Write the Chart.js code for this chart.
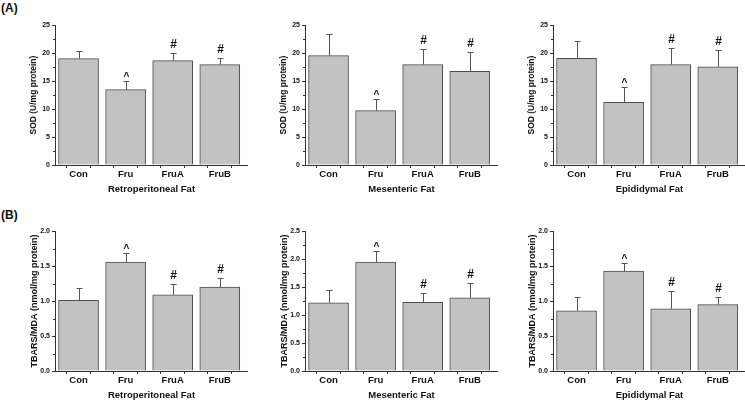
<!DOCTYPE html>
<html><head><meta charset="utf-8">
<script src="https://cdn.jsdelivr.net/npm/chart.js@4/dist/chart.umd.min.js"></script>
<style>
html,body{margin:0;padding:0;background:#fff;overflow:hidden;width:745px;height:402px;}
canvas{position:absolute;}
.lbl{position:absolute;font:bold 12px "Liberation Sans",Arial,sans-serif;color:#111;}
</style></head><body>
<div class="lbl" style="left:1px;top:1px">(A)</div>
<div class="lbl" style="left:1px;top:208px">(B)</div>
<canvas id="c1" width="248" height="181" style="left:0px;top:19px"></canvas>
<canvas id="c2" width="248" height="181" style="left:250px;top:19px"></canvas>
<canvas id="c3" width="248" height="181" style="left:498px;top:19px"></canvas>
<canvas id="c4" width="248" height="181" style="left:0px;top:225px"></canvas>
<canvas id="c5" width="248" height="181" style="left:250px;top:225px"></canvas>
<canvas id="c6" width="248" height="181" style="left:498px;top:225px"></canvas>
<script>
// ---- data ----
const categories = ['Con', 'Fru', 'FruA', 'FruB'];
const marks = ['', '^', '#', '#'];
const fatLabels = ['Retroperitoneal Fat', 'Mesenteric Fat', 'Epididymal Fat'];
const sodTitle = 'SOD (U/mg protein)';
const tbarsTitle = 'TBARS/MDA (nmol/mg protein)';

const sodRetro = [19.03, 13.48, 18.67, 17.96];
const sodRetroSD = [1.32, 1.50, 1.32, 1.19];
const sodMes = [19.57, 9.73, 17.96, 16.77];
const sodMesSD = [3.93, 2.14, 2.84, 3.52];
const sodEpi = [19.09, 11.22, 17.96, 17.54];
const sodEpiSD = [3.17, 2.80, 3.04, 3.04];

const tbarsRetro = [1.01, 1.56, 1.09, 1.20];
const tbarsRetroSD = [0.18, 0.13, 0.15, 0.13];
const tbarsMes = [1.22, 1.95, 1.23, 1.31];
const tbarsMesSD = [0.23, 0.19, 0.16, 0.26];
const tbarsEpi = [0.86, 1.43, 0.89, 0.95];
const tbarsEpiSD = [0.20, 0.12, 0.26, 0.11];

const sodAxis = {max: 25, step: 5, decimals: 0};
const tbarsAxisRetro = {max: 2.0, step: 0.5, decimals: 1};
const tbarsAxisMes = {max: 2.5, step: 0.5, decimals: 1};
const tbarsAxisEpi = {max: 2.0, step: 0.5, decimals: 1};

// ---- styling ----
const FONT = '"Liberation Sans", Arial, sans-serif';
const INK = '#111';
const AXIS = '#333';
const BAR_FILL = '#c2c2c2';
const BAR_EDGE = '#4d4d4d';
const ERR = '#555';

const errPlugin = {
  id: 'errbars',
  afterDatasetsDraw(chart, args, opts) {
    const ctx = chart.ctx;
    const xs = chart.scales.x, ys = chart.scales.y;
    const data = chart.data.datasets[0].data;
    ctx.save();
    ctx.strokeStyle = ERR;
    ctx.lineWidth = 1;
    data.forEach((d, i) => {
      const x = Math.round(xs.getPixelForValue(d.x)) + 0.5;
      const yb = ys.getPixelForValue(d.y);
      const yt = Math.round(ys.getPixelForValue(d.y + opts.sd[i])) + 0.5;
      ctx.beginPath();
      ctx.moveTo(x, yb);
      ctx.lineTo(x, yt);
      ctx.moveTo(x - 3, yt);
      ctx.lineTo(x + 3, yt);
      ctx.stroke();
      const m = opts.marks[i];
      if (m) {
        ctx.fillStyle = INK;
        ctx.textAlign = 'center';
        ctx.textBaseline = 'alphabetic';
        if (m === '#') {
          ctx.font = 'bold 12px ' + FONT;
          ctx.fillText(m, x, yt - 6);
        } else {
          ctx.font = 'bold 10px ' + FONT;
          ctx.fillText(m, x, yt - 2);
        }
      }
    });
    ctx.restore();
  }
};

const minorPlugin = {
  id: 'minorTicks',
  afterDraw(chart) {
    const ctx = chart.ctx;
    const ys = chart.scales.y;
    const t = ys.ticks;
    const x = ys.right;
    ctx.save();
    ctx.strokeStyle = AXIS;
    ctx.lineWidth = 1;
    for (let i = 0; i < t.length - 1; i++) {
      const v = (t[i].value + t[i + 1].value) / 2;
      const y = Math.round(ys.getPixelForValue(v)) + 0.5;
      ctx.beginPath();
      ctx.moveTo(x - 2, y);
      ctx.lineTo(x, y);
      ctx.stroke();
    }
    ctx.restore();
  }
};

const xTickValues = [1, 1.5, 2, 2.5, 3, 3.5, 4, 4.5];

function makeChart(id, values, sds, axis, yTitle, xTitle, yTitleSize) {
  const pts = values.map((v, i) => ({x: i + 1, y: v}));
  return new Chart(document.getElementById(id), {
    type: 'bar',
    data: {
      datasets: [{
        data: pts,
        backgroundColor: BAR_FILL,
        borderColor: BAR_EDGE,
        borderWidth: 1,
        barThickness: 40
      }]
    },
    options: {
      responsive: false,
      animation: false,
      events: [],
      layout: {padding: {top: 6, right: 0, left: 0, bottom: 0}},
      plugins: {
        legend: {display: false},
        tooltip: {enabled: false},
        errbars: {sd: sds, marks: marks}
      },
      scales: {
        x: {
          type: 'linear',
          offset: false,
          min: 0.5,
          max: 4.6,
          afterBuildTicks: s => { s.ticks = xTickValues.map(v => ({value: v})); },
          afterFit: s => { s.height = 35; s.paddingLeft = 0; s.paddingRight = 0; },
          border: {display: true, color: AXIS, width: 1},
          grid: {display: true, drawOnChartArea: false, drawTicks: true, tickLength: 3, color: AXIS},
          ticks: {
            autoSkip: false,
            maxRotation: 0,
            padding: 1,
            color: INK,
            font: {family: FONT, size: 9.5, weight: 'bold'},
            callback: v => Number.isInteger(v) ? categories[v - 1] : ''
          },
          title: {
            display: true,
            text: xTitle,
            color: INK,
            font: {family: FONT, size: 9.5, weight: 'bold'},
            padding: {top: 0, bottom: 5}
          }
        },
        y: {
          min: 0,
          max: axis.max,
          afterFit: s => { s.width = 55; },
          border: {display: true, color: AXIS, width: 1},
          grid: {display: true, drawOnChartArea: false, drawTicks: true, tickLength: 3, color: AXIS},
          ticks: {
            stepSize: axis.step,
            padding: 2,
            color: INK,
            font: {family: FONT, size: 7, weight: 'bold'},
            callback: v => Number(v).toFixed(axis.decimals)
          },
          title: {
            display: true,
            text: yTitle,
            color: INK,
            font: {family: FONT, size: yTitleSize, weight: 'bold'},
            padding: {top: 29, bottom: 0}
          }
        }
      }
    },
    plugins: [errPlugin, minorPlugin]
  });
}

makeChart('c1', sodRetro, sodRetroSD, sodAxis, sodTitle, fatLabels[0], 8.5);
makeChart('c2', sodMes, sodMesSD, sodAxis, sodTitle, fatLabels[1], 8.5);
makeChart('c3', sodEpi, sodEpiSD, sodAxis, sodTitle, fatLabels[2], 8.5);
makeChart('c4', tbarsRetro, tbarsRetroSD, tbarsAxisRetro, tbarsTitle, fatLabels[0], 9);
makeChart('c5', tbarsMes, tbarsMesSD, tbarsAxisMes, tbarsTitle, fatLabels[1], 9);
makeChart('c6', tbarsEpi, tbarsEpiSD, tbarsAxisEpi, tbarsTitle, fatLabels[2], 9);
</script>
</body></html>
